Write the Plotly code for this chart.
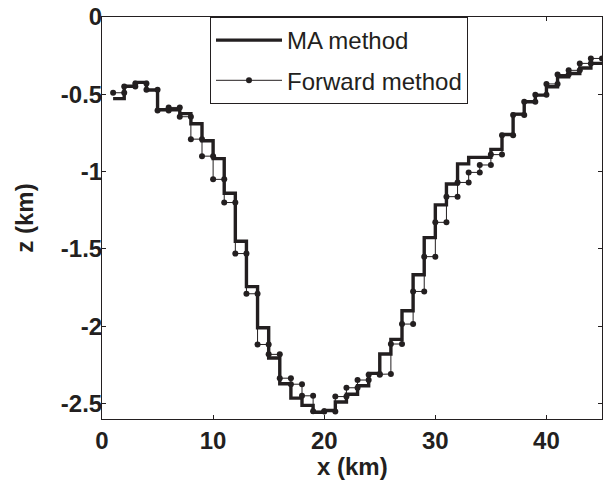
import plotly.graph_objects as go

# Cell boundaries (km) and depth of each 1-km cell (km)
x_edges = list(range(1, 46))

ma_depth = [-0.528, -0.448, -0.423, -0.472, -0.600, -0.600, -0.625, -0.690, -0.800, -0.916,
            -1.140, -1.450, -1.744, -2.010, -2.205, -2.372, -2.465, -2.512, -2.556, -2.545,
            -2.490, -2.440, -2.385, -2.305, -2.180, -2.085, -1.900, -1.667, -1.427, -1.215,
            -1.080, -0.950, -0.908, -0.908, -0.856, -0.760, -0.628, -0.548, -0.505, -0.451,
            -0.386, -0.365, -0.330, -0.300]

fw_depth = [-0.490, -0.450, -0.430, -0.470, -0.605, -0.585, -0.645, -0.790, -0.900, -1.050,
            -1.200, -1.530, -1.790, -2.118, -2.182, -2.336, -2.375, -2.450, -2.550, -2.552,
            -2.455, -2.398, -2.348, -2.313, -2.309, -2.115, -1.986, -1.775, -1.550, -1.328,
            -1.162, -1.070, -1.005, -0.957, -0.890, -0.765, -0.634, -0.548, -0.503, -0.433,
            -0.372, -0.345, -0.300, -0.268]

x_ticks = [0, 10, 20, 30, 40]
y_ticks = [0, -0.5, -1, -1.5, -2, -2.5]
y_tick_text = ["0", "-0.5", "-1", "-1.5", "-2", "-2.5"]

ink = "#231f20"
font_family = "Liberation Sans, Arial, sans-serif"

# MA method: thick stair line
ma_x = x_edges
ma_y = ma_depth + [ma_depth[-1]]

# Forward method: vertices at both ends of each cell
fw_x, fw_y = [], []
for i, v in enumerate(fw_depth):
    fw_x += [x_edges[i], x_edges[i + 1]]
    fw_y += [v, v]

fig = go.Figure()
fig.add_trace(go.Scatter(
    x=ma_x, y=ma_y, mode="lines", name="MA method", line_shape="hv",
    line=dict(color=ink, width=3.4), legendgroup="a", legendrank=1,
))
fig.add_trace(go.Scatter(
    x=fw_x, y=fw_y, mode="lines+markers", name="Forward method",
    line=dict(color=ink, width=1), marker=dict(color=ink, size=6),
    legendgroup="b", legendrank=2,
))

axis_common = dict(
    showline=True, linecolor=ink, linewidth=1, mirror="ticks",
    ticks="inside", ticklen=4, tickcolor=ink, showgrid=False, zeroline=False,
    automargin=False,
    tickfont=dict(family=font_family, size=24, color=ink, weight="bold"),
)

plot_top, plot_bottom = 17, 419
plot_h = plot_bottom - plot_top

fig.update_layout(
    width=603, height=482,
    margin=dict(l=102, r=1, t=plot_top, b=482 - plot_bottom),
    paper_bgcolor="white", plot_bgcolor="white",
    font=dict(family=font_family, color=ink),
    xaxis=dict(range=[0, 45], tickvals=x_ticks, **axis_common),
    yaxis=dict(range=[-2.6, 0], tickvals=y_ticks, ticktext=y_tick_text,
               ticklabelstandoff=-6, **axis_common,
               title=dict(text="z (km)", font=dict(size=24, weight="bold"), standoff=20)),
    annotations=[dict(text="<b>x (km)</b>", xref="paper", yref="paper",
                      x=0.5, y=-(467 - plot_bottom) / plot_h,
                      xanchor="center", yanchor="middle",
                      showarrow=False, font=dict(family=font_family, size=24, color=ink))],
    legend=dict(x=(210 - 102) / 500, y=1.0, xanchor="left", yanchor="top",
                bordercolor=ink, borderwidth=1, bgcolor="white",
                font=dict(family=font_family, size=24, color=ink),
                tracegroupgap=6, itemwidth=66,
                entrywidth=234, entrywidthmode="pixels"),
    showlegend=True,
)

fig.write_html("out.html")
